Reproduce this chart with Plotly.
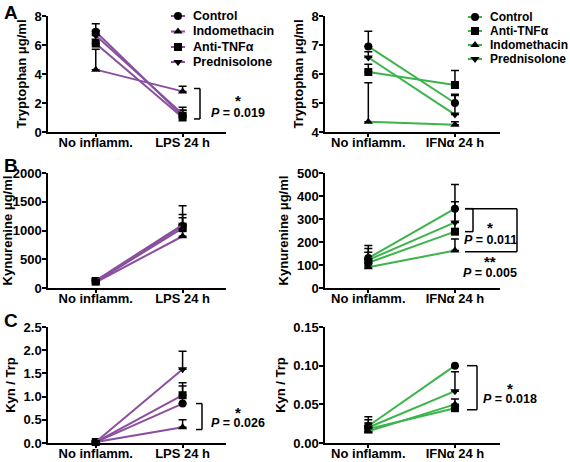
import plotly.graph_objects as go

# ---------------- data ----------------
cat_lps = ["No inflamm.", "LPS 24 h"]
cat_ifn = ["No inflamm.", "IFNα 24 h"]

groups_lps = ["Control", "Indomethacin", "Anti-TNFα", "Prednisolone"]
groups_ifn = ["Control", "Anti-TNFα", "Indomethacin", "Prednisolone"]

# Tryptophan (µg/ml)
trp_lps = {"Control": [6.92, 1.1], "Indomethacin": [4.3, 2.8], "Anti-TNFα": [6.1, 1.0], "Prednisolone": [6.65, 1.25]}
trp_lps_err = {"Control": [0.55, 0.4], "Indomethacin": [1.4, 0.35], "Anti-TNFα": [0.3, 0.5], "Prednisolone": [0.35, 0.45]}
trp_ifn = {"Control": [6.95, 5.0], "Anti-TNFα": [6.07, 5.62], "Indomethacin": [4.35, 4.25], "Prednisolone": [6.57, 4.6]}
trp_ifn_err = {"Control": [0.52, 0.3], "Anti-TNFα": [0.27, 0.5], "Indomethacin": [1.35, 0.1], "Prednisolone": [0.2, 0.66]}

# Kynurenine (µg/ml)
kyn_lps = {"Control": [120, 1080], "Indomethacin": [100, 900], "Anti-TNFα": [110, 1040], "Prednisolone": [130, 1100]}
kyn_lps_err = {"Control": [40, 200], "Indomethacin": [30, 100], "Anti-TNFα": [40, 180], "Prednisolone": [50, 330]}
kyn_ifn = {"Control": [130, 345], "Anti-TNFα": [110, 245], "Indomethacin": [90, 163], "Prednisolone": [122, 285]}
kyn_ifn_err = {"Control": [55, 105], "Anti-TNFα": [45, 130], "Indomethacin": [20, 50], "Prednisolone": [50, 60]}

# Kyn / Trp ratio
ratio_lps = {"Control": [0.02, 0.85], "Indomethacin": [0.02, 0.34], "Anti-TNFα": [0.02, 1.03], "Prednisolone": [0.02, 1.59]}
ratio_lps_err = {"Control": [0.01, 0.38], "Indomethacin": [0.01, 0.16], "Anti-TNFα": [0.01, 0.27], "Prednisolone": [0.01, 0.39]}
ratio_ifn = {"Control": [0.022, 0.100], "Anti-TNFα": [0.018, 0.045], "Indomethacin": [0.015, 0.050], "Prednisolone": [0.020, 0.067]}
ratio_ifn_err = {"Control": [0.012, 0.0], "Anti-TNFα": [0.008, 0.003], "Indomethacin": [0.006, 0.007], "Prednisolone": [0.010, 0.025]}

# ---------------- styles ----------------
PURPLE = "#8a4f9e"
GREEN = "#3cb44b"
SYMBOL = {"Control": "circle", "Indomethacin": "triangle-up", "Anti-TNFα": "square", "Prednisolone": "triangle-down"}
FONT = "Liberation Sans, Arial, sans-serif"
W, H = 570, 462

fig = go.Figure()

def px_x(p):
    return p / W

def px_y(p):
    return 1 - p / H

panels = [
    ("x", "y", cat_lps, groups_lps, trp_lps, trp_lps_err, PURPLE),
    ("x2", "y2", cat_ifn, groups_ifn, trp_ifn, trp_ifn_err, GREEN),
    ("x3", "y3", cat_lps, groups_lps, kyn_lps, kyn_lps_err, PURPLE),
    ("x4", "y4", cat_ifn, groups_ifn, kyn_ifn, kyn_ifn_err, GREEN),
    ("x5", "y5", cat_lps, groups_lps, ratio_lps, ratio_lps_err, PURPLE),
    ("x6", "y6", cat_ifn, groups_ifn, ratio_ifn, ratio_ifn_err, GREEN),
]

for xa, ya, cats, groups, data, err, color in panels:
    for g in groups:
        fig.add_trace(go.Scatter(
            x=cats, y=data[g], xaxis=xa, yaxis=ya,
            mode="lines+markers", name=g, showlegend=False,
            line=dict(color=color, width=2),
            marker=dict(symbol=SYMBOL[g], color="black", size=8),
            error_y=dict(type="data", array=err[g], arrayminus=[0, 0], symmetric=False,
                         color="black", thickness=1.5, width=4),
            cliponaxis=False,
        ))

left_dom = [px_x(48), px_x(226)]
right_dom = [px_x(325), px_x(500)]
rows = [(16, 132), (173, 288), (327, 443)]

tickfont = dict(size=13, color="black", family=FONT, weight="bold")
axis_common = dict(showline=True, linecolor="black", linewidth=1.5, ticks="outside",
                   ticklen=4, tickwidth=1.5, tickcolor="black", showgrid=False, zeroline=False,
                   tickfont=tickfont)

yranges = [[0, 8], [4, 8], [0, 2000], [0, 500], [0, 2.5], [0, 0.15]]
ydticks = [2, 1, 500, 100, 0.5, 0.05]
yfmt = [None, None, None, None, ".1f", ".2f"]
ytitles = ["Tryptophan μg/ml", "Tryptophan μg/ml", "Kynurenine μg/ml", "Kynurenine μg/ml", "Kyn / Trp", "Kyn / Trp"]

layout = {}
for i in range(6):
    r, c = divmod(i, 2)
    xn = "xaxis" if i == 0 else f"xaxis{i+1}"
    yn = "yaxis" if i == 0 else f"yaxis{i+1}"
    ysuf = "y" if i == 0 else f"y{i+1}"
    xsuf = "x" if i == 0 else f"x{i+1}"
    top, bot = rows[r]
    layout[xn] = dict(axis_common, domain=left_dom if c == 0 else right_dom, anchor=ysuf,
                      type="category", range=[-0.55, 1.5] if c == 0 else [-0.5, 1.52],
                      ticklen=3, ticklabelstandoff=-5)
    yd = dict(axis_common, domain=[px_y(bot), px_y(top)], anchor=xsuf, range=yranges[i],
              dtick=ydticks[i], tick0=0, ticklabelstandoff=-2,
              title=dict(text=ytitles[i], standoff=5,
                         font=dict(size=13, color="black", family=FONT, weight="bold")))
    if yfmt[i]:
        yd["tickformat"] = yfmt[i]
    layout[yn] = yd

# overlay axis in pixel units for the legend keys
layout["xaxis7"] = dict(domain=[0, 1], range=[0, W], visible=False, fixedrange=True, anchor="y7")
layout["yaxis7"] = dict(domain=[0, 1], range=[H, 0], visible=False, fixedrange=True, anchor="x7")

fig.update_layout(**layout)

shapes = []
annotations = []

# ---------------- legends (keys drawn in pixel overlay) ----------------
def legend(groups, color, x_line0, x_line1, x_text, ys, fsize):
    for g, yy in zip(groups, ys):
        xm = (x_line0 + x_line1) / 2
        fig.add_trace(go.Scatter(
            x=[x_line0, x_line1], y=[yy, yy], xaxis="x7", yaxis="y7",
            mode="lines", showlegend=False, hoverinfo="skip",
            line=dict(color=color, width=2), cliponaxis=False,
        ))
        fig.add_trace(go.Scatter(
            x=[xm], y=[yy], xaxis="x7", yaxis="y7",
            mode="markers", showlegend=False, hoverinfo="skip",
            marker=dict(symbol=SYMBOL[g], color="black", size=8), cliponaxis=False,
        ))
        annotations.append(dict(text=g, x=px_x(x_text), y=px_y(yy), xref="paper", yref="paper",
                                xanchor="left", yanchor="middle", showarrow=False,
                                font=dict(size=fsize, family=FONT, color="black", weight="bold")))

legend(groups_lps, PURPLE, 171, 185, 191, [16, 31.5, 47, 62], 12.5)
legend(groups_ifn, GREEN, 468, 482, 488, [17, 31, 45, 59], 12)

# ---------------- brackets & stats ----------------
def bracket(yref, y_top, y_bot, x_in, x_out):
    lw = dict(color="black", width=1.5)
    shapes.append(dict(type="line", xref="paper", yref=yref, x0=px_x(x_out), x1=px_x(x_out), y0=y_bot, y1=y_top, line=lw))
    shapes.append(dict(type="line", xref="paper", yref=yref, x0=px_x(x_in), x1=px_x(x_out), y0=y_top, y1=y_top, line=lw))
    shapes.append(dict(type="line", xref="paper", yref=yref, x0=px_x(x_in), x1=px_x(x_out), y0=y_bot, y1=y_bot, line=lw))

def stat(stars, ptxt, xc, y_star, y_p):
    annotations.append(dict(text=stars, x=px_x(xc), y=px_y(y_star), xref="paper", yref="paper",
                            xanchor="center", yanchor="middle", showarrow=False,
                            font=dict(size=15, family=FONT, color="black", weight="bold")))
    annotations.append(dict(text="<i>P</i> = " + ptxt, x=px_x(xc), y=px_y(y_p), xref="paper", yref="paper",
                            xanchor="center", yanchor="middle", showarrow=False,
                            font=dict(size=12.5, family=FONT, color="black", weight="bold")))

bracket("y", trp_lps["Indomethacin"][1] + 0.2, trp_lps["Anti-TNFα"][1] - 0.1, 194, 200)
stat("*", "0.019", 238, 101, 113)

bracket("y4", kyn_ifn["Control"][1], kyn_ifn["Anti-TNFα"][1], 465, 473)
stat("*", "0.011", 490, 228, 240)
bracket("y4", kyn_ifn["Control"][1], kyn_ifn["Indomethacin"][1] - 5, 465, 517)
stat("**", "0.005", 490, 261, 273)

bracket("y5", ratio_lps["Control"][1], ratio_lps["Indomethacin"][1] - 0.05, 196, 202)
stat("*", "0.026", 238, 412, 423)

bracket("y6", ratio_ifn["Control"][1], ratio_ifn["Anti-TNFα"][1] - 0.002, 467, 477)
stat("*", "0.018", 510, 388, 399)

for letter, yp in [("A", 12), ("B", 166), ("C", 320)]:
    annotations.append(dict(text=letter, x=px_x(2), y=px_y(yp), xref="paper", yref="paper",
                            xanchor="left", yanchor="middle", showarrow=False,
                            font=dict(size=19, family=FONT, color="black", weight="bold")))

fig.update_layout(
    width=W, height=H,
    margin=dict(l=0, r=0, t=0, b=0, autoexpand=False),
    paper_bgcolor="white", plot_bgcolor="rgba(0,0,0,0)",
    font=dict(family=FONT, color="black", size=12, weight="bold"),
    shapes=shapes, annotations=annotations,
    showlegend=False,
)

fig.write_html("out.html", config={"displayModeBar": False},
               post_script="document.body.style.margin='0';")
